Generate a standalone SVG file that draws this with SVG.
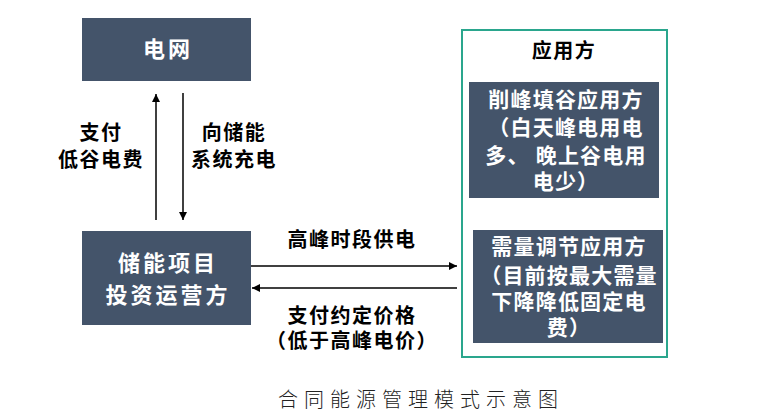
<svg xmlns="http://www.w3.org/2000/svg" width="782" height="420" viewBox="0 0 782 420">
<style>
.node{fill:#44546a;}
.wt{fill:#ffffff;font-family:"Noto Sans CJK SC","Noto Sans",sans-serif;font-weight:bold;font-size:21px;text-anchor:middle;letter-spacing:1.2px;}
.big{font-size:22px;letter-spacing:3px;}
.bt{fill:#000000;font-family:"Noto Sans CJK SC","Noto Sans",sans-serif;font-weight:bold;font-size:20px;text-anchor:middle;letter-spacing:1.5px;}
.ln{stroke:#000;stroke-width:1.5;fill:none;}
.title{fill:#222;font-family:"Noto Sans CJK SC",sans-serif;font-weight:300;font-size:20px;text-anchor:middle;letter-spacing:6px;}
</style>
<defs>
<marker id="ah" viewBox="0 0 10 10" refX="10" refY="5" markerWidth="8" markerHeight="8" markerUnits="userSpaceOnUse" orient="auto">
<path d="M0,0 L10,5 L0,10 z" fill="#000"/>
</marker>
</defs>
<rect width="782" height="420" fill="#fff"/>
<g id="grid">
<rect class="node" x="82" y="18" width="169" height="63"/>
<text class="wt big" x="168" y="57">电网</text>
</g>
<g id="storage">
<rect class="node" x="82" y="231" width="169" height="94"/>
<text class="wt big" x="168" y="271">储能项目</text>
<text class="wt big" x="168" y="303">投资运营方</text>
</g>
<g id="user">
<rect x="462" y="30" width="205" height="327" fill="none" stroke="#2aa68d" stroke-width="2"/>
<text class="bt" x="564" y="58">应用方</text>
</g>
<g id="peak">
<rect class="node" x="469" y="82" width="190" height="116"/>
<text class="wt" x="566" y="107">削峰填谷应用方</text>
<text class="wt" x="566" y="135">（白天峰电用电</text>
<text class="wt" x="566" y="163">多、 晚上谷电用</text>
<text class="wt" x="566" y="189">电少）</text>
</g>
<g id="demand">
<rect class="node" x="473" y="230" width="190" height="113"/>
<text class="wt" x="569" y="254">需量调节应用方</text>
<text class="wt" x="569" y="283">（目前按最大需量</text>
<text class="wt" x="569" y="309">下降降低固定电</text>
<text class="wt" x="569" y="335">费）</text>
</g>
<g id="connectors">
<line class="ln" x1="156" y1="220" x2="156" y2="94" marker-end="url(#ah)"/>
<line class="ln" x1="183" y1="93" x2="183" y2="220" marker-end="url(#ah)"/>
<line class="ln" x1="251" y1="266" x2="457" y2="266" marker-end="url(#ah)"/>
<line class="ln" x1="457" y1="288" x2="252" y2="288" marker-end="url(#ah)"/>
</g>
<g id="labels">
<text class="bt" x="101" y="140">支付</text>
<text class="bt" x="101" y="167">低谷电费</text>
<text class="bt" x="234" y="140">向储能</text>
<text class="bt" x="234" y="167">系统充电</text>
<text class="bt" x="352" y="247">高峰时段供电</text>
<text class="bt" x="352" y="323">支付约定价格</text>
<text class="bt" x="352" y="348">（低于高峰电价）</text>
</g>
<text class="title" x="421" y="407">合同能源管理模式示意图</text>
</svg>
